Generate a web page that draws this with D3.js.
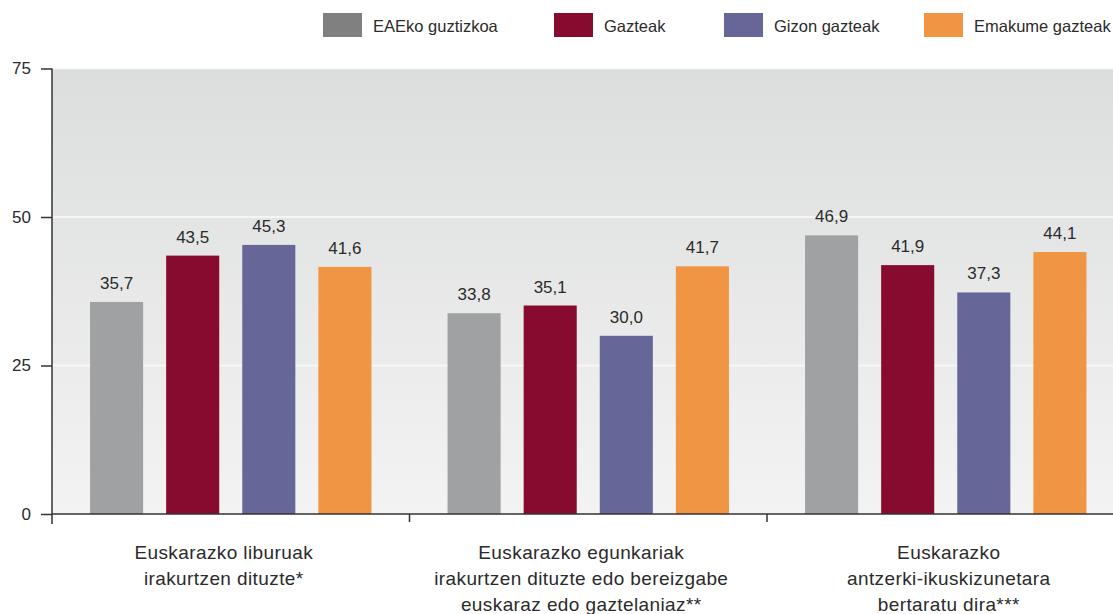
<!DOCTYPE html>
<html><head><meta charset="utf-8">
<script src="https://cdn.jsdelivr.net/npm/d3@7"></script>
<style>
html,body{margin:0;padding:0;background:#fff;overflow:hidden}
text{font-family:"Liberation Sans",Arial,sans-serif;fill:#2b2b2b}
</style></head>
<body>
<svg id="c" width="1113" height="614"></svg>
<script>
const categories = [
  ["Euskarazko liburuak", "irakurtzen dituzte*"],
  ["Euskarazko egunkariak", "irakurtzen dituzte edo bereizgabe", "euskaraz edo gaztelaniaz**"],
  ["Euskarazko", "antzerki-ikuskizunetara", "bertaratu dira***"]
];
const seriesNames = ["EAEko guztizkoa", "Gazteak", "Gizon gazteak", "Emakume gazteak"];
const barColors = ["#a0a1a3", "#860b2e", "#666699", "#f09544"];
const legendColors = ["#808080", "#860b2e", "#666699", "#f09544"];
const total = [35.7, 33.8, 46.9];
const young = [43.5, 35.1, 41.9];
const youngMen = [45.3, 30.0, 37.3];
const youngWomen = [41.6, 41.7, 44.1];
const yTicks = [0, 25, 50, 75];

const seriesValues = [total, young, youngMen, youngWomen];
const svg = d3.select("#c");
const mLeft = 52, mRight = 1124.5, mTop = 68.5, mBottom = 514;

const x0 = d3.scaleBand().domain(d3.range(categories.length)).range([mLeft, mRight]).padding(0);
const x1 = d3.scaleBand().domain(d3.range(seriesNames.length)).range([0, x0.bandwidth()])
  .paddingInner(0.3026).paddingOuter(0.5);
const y = d3.scaleLinear().domain([0, 75]).range([mBottom, mTop]);

// background gradient
const defs = svg.append("defs");
const g = defs.append("linearGradient").attr("id","bg").attr("x1",0).attr("y1",0).attr("x2",0).attr("y2",1);
g.append("stop").attr("offset","0%").attr("stop-color","#dcdddd");
g.append("stop").attr("offset","100%").attr("stop-color","#f3f3f3");
svg.append("rect").attr("x", mLeft).attr("y", y(75)).attr("width", 1113 - mLeft).attr("height", y(0) - y(75)).attr("fill","url(#bg)");

// gridlines
svg.append("g").selectAll("line").data(yTicks.filter(d => d > 0)).join("line")
  .attr("x1", mLeft).attr("x2", 1113).attr("y1", d => y(d)).attr("y2", d => y(d))
  .attr("stroke", "#fafafa").attr("stroke-width", 1.5);

// bars
const fmt = v => v.toFixed(1).replace(".", ",");
categories.forEach((c, ci) => {
  const grp = svg.append("g").attr("transform", `translate(${x0(ci)},0)`);
  seriesValues.forEach((vals, si) => {
    const v = vals[ci];
    grp.append("rect").attr("x", x1(si)).attr("y", y(v)).attr("width", x1.bandwidth())
      .attr("height", y(0) - y(v)).attr("fill", barColors[si]);
    grp.append("text").attr("x", x1(si) + x1.bandwidth() / 2).attr("y", y(v) - 13)
      .attr("text-anchor", "middle").attr("font-size", 17).text(fmt(v));
  });
});

// y axis
const yAxis = svg.append("g").attr("transform", `translate(${mLeft},0)`)
  .call(d3.axisLeft(y).tickValues(yTicks).tickSize(11).tickPadding(10).tickFormat(d3.format("d")));
yAxis.select(".domain").remove();
yAxis.selectAll(".tick line").attr("stroke", "#333").attr("stroke-width", 1.5);
yAxis.selectAll(".tick text").attr("font-size", 17).attr("font-family", "Liberation Sans, Arial, sans-serif").attr("fill", "#2b2b2b");
svg.append("line").attr("x1", mLeft).attr("x2", mLeft).attr("y1", y(75)).attr("y2", 524)
  .attr("stroke", "#333").attr("stroke-width", 1.5);

// x axis
svg.append("line").attr("x1", mLeft).attr("x2", 1113).attr("y1", y(0)).attr("y2", y(0))
  .attr("stroke", "#333").attr("stroke-width", 1.5);
svg.append("g").selectAll("line").data(d3.range(1, categories.length)).join("line")
  .attr("x1", d => x0(d)).attr("x2", d => x0(d)).attr("y1", y(0)).attr("y2", 522)
  .attr("stroke", "#333").attr("stroke-width", 1.5);

// category labels
const labelShift = [-7, -7, 3];
categories.forEach((lines, ci) => {
  const cx = x0(ci) + x0.bandwidth() / 2 + labelShift[ci];
  const t = svg.append("text").attr("text-anchor", "middle").attr("font-size", 19)
    .attr("letter-spacing", 0.4).attr("x", cx).attr("y", 559);
  lines.forEach((l, li) => t.append("tspan").attr("x", cx).attr("dy", li === 0 ? 0 : 26).text(l));
});

// legend
const legendX = [323, 554, 724, 924];
const lg = svg.append("g");
seriesNames.forEach((n, i) => {
  lg.append("rect").attr("x", legendX[i]).attr("y", 13).attr("width", 39).attr("height", 24).attr("fill", legendColors[i]);
  lg.append("text").attr("x", legendX[i] + 50).attr("y", 32).attr("font-size", 16.5).text(n);
});
</script>
</body></html>
